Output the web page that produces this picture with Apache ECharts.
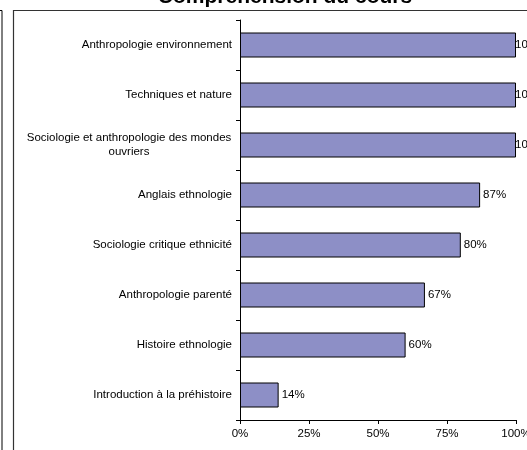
<!DOCTYPE html>
<html>
<head>
<meta charset="utf-8">
<script src="https://cdn.jsdelivr.net/npm/echarts@6/dist/echarts.min.js"></script>
<style>html,body{margin:0;padding:0;background:#fff}#c{width:527px;height:450px}</style>
</head>
<body>
<div id="c"></div>
<script>
const categories = [
  'Anthropologie environnement',
  'Techniques et nature',
  'Sociologie et anthropologie des mondes\nouvriers',
  'Anglais ethnologie',
  'Sociologie critique ethnicité',
  'Anthropologie parenté',
  'Histoire ethnologie',
  'Introduction à la préhistoire'
];
const values = [100, 100, 100, 87, 80, 67, 60, 14];
const xTicks = [0, 25, 50, 75, 100];
const titleText = 'Compréhension du cours';

const FONT = '"Liberation Sans", Arial, sans-serif';
const chart = echarts.init(document.getElementById('c'), null, {renderer: 'canvas'});
chart.setOption({
  animation: false,
  backgroundColor: '#fff',
  title: {
    text: titleText,
    left: 280,
    textAlign: 'center',
    top: -18,
    textStyle: {fontFamily: FONT, fontSize: 21, fontWeight: 'bold', color: '#000'}
  },
  graphic: [
    {type: 'rect', shape: {x: -20, y: 10.5, width: 22, height: 500}, style: {fill: 'none', stroke: '#000', lineWidth: 1}, silent: true},
    {type: 'rect', shape: {x: 13.5, y: 10.5, width: 600, height: 500}, style: {fill: 'none', stroke: '#333', lineWidth: 1.2}, silent: true}
  ],
  grid: {left: 240, right: 11, top: 20, bottom: 30, containLabel: false, outerBoundsMode: 'none'},
  xAxis: {
    type: 'value',
    min: xTicks[0],
    max: xTicks[xTicks.length - 1],
    interval: xTicks[1] - xTicks[0],
    splitLine: {show: false},
    axisLine: {show: true, lineStyle: {color: '#000', width: 1}},
    axisTick: {show: true, length: 4, lineStyle: {color: '#000'}},
    axisLabel: {formatter: '{value}%', color: '#000', fontFamily: FONT, fontSize: 11.5, margin: 8}
  },
  yAxis: {
    type: 'category',
    inverse: true,
    data: categories,
    axisLine: {show: true, lineStyle: {color: '#000', width: 1}},
    axisTick: {show: true, length: 4, lineStyle: {color: '#000'}},
    axisLabel: {
      color: '#000', fontFamily: FONT, fontSize: 11.5, margin: 8, lineHeight: 14,
      formatter: function (v) { return v.indexOf('\n') >= 0 ? '{c|' + v + '}' : v; },
      rich: {c: {width: 206, align: 'center', fontFamily: FONT, fontSize: 11.5, color: '#000', lineHeight: 14}}
    }
  },
  series: [{
    type: 'bar',
    data: values.map(v => ({
      value: v,
      label: v >= 100 ? {offset: [-4, 0]} : undefined
    })),
    barCategoryGap: '50%',
    itemStyle: {color: '#8d8fc6', borderColor: '#000', borderWidth: 1},
    label: {
      show: true, position: 'right', distance: 3,
      formatter: p => p.value + '%',
      color: '#000', fontFamily: FONT, fontSize: 11.5
    }
  }]
});
</script>
</body>
</html>
